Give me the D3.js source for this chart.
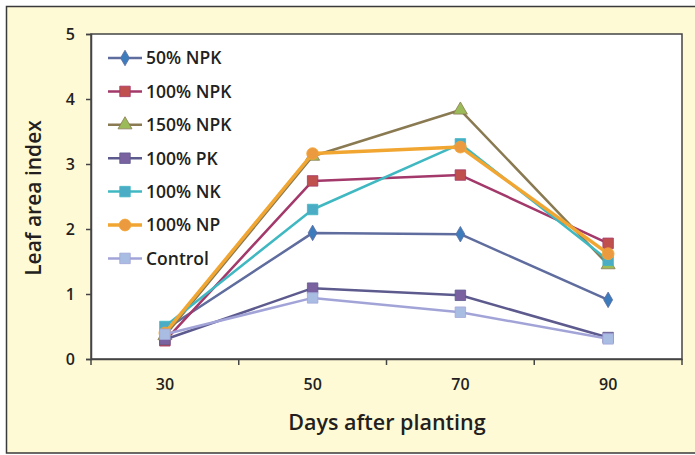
<!DOCTYPE html>
<html><head><meta charset="utf-8">
<script src="https://cdn.jsdelivr.net/npm/d3@7"></script>
<style>body{margin:0;background:#fff}svg{display:block}</style>
</head><body>
<svg id="c" width="695" height="455"></svg>
<script>
const categories = ["30", "50", "70", "90"];
const yTicks = [0, 1, 2, 3, 4, 5];
const seriesNames = ["50% NPK", "100% NPK", "150% NPK", "100% PK", "100% NK", "100% NP", "Control"];
const npk50  = [0.45, 1.94, 1.92, 0.91];
const npk100 = [0.28, 2.74, 2.83, 1.78];
const npk150 = [0.36, 3.12, 3.83, 1.45];
const pk100  = [0.30, 1.09, 0.98, 0.33];
const nk100  = [0.50, 2.30, 3.31, 1.52];
const np100  = [0.40, 3.16, 3.26, 1.62];
const control= [0.38, 0.94, 0.72, 0.31];
const seriesValues = [npk50, npk100, npk150, pk100, nk100, np100, control];
const lineColors   = ["#5f6c9e", "#a3386a", "#8a7a52", "#5d5a8e", "#3fb8c2", "#f2a632", "#a2a4d8"];
const markerColors = ["#3d7cbc", "#c0504d", "#9bbb59", "#7a62a0", "#4bacc6", "#ec9a40", "#a9bde3"];
const markerShapes = ["diamond", "square", "triangle", "square", "square", "circle", "square"];
const lineWidths   = [2.5, 2.5, 2.5, 2.5, 2.5, 3.5, 2.5];

const svg = d3.select("#c");
const font = "'Open Sans', sans-serif";
const ink = "#231f20";

svg.append("rect").attr("x", 6.5).attr("y", 6.5).attr("width", 700).attr("height", 446.5)
  .attr("fill", "#fffad6").attr("stroke", "#3a3a3a").attr("stroke-width", 1.5);

const L = 91, T = 34, R = 682, B = 359;
const x = d3.scaleBand().domain(categories).range([L, R]);
const y = d3.scaleLinear().domain([0, 5]).range([B, T]);

svg.append("rect").attr("x", L).attr("y", T).attr("width", R - L).attr("height", B - T)
  .attr("fill", "#fff").attr("stroke", "#444").attr("stroke-width", 1.5);

// y axis
const ya = svg.append("g").attr("transform", `translate(${L},0)`)
  .call(d3.axisLeft(y).tickValues(yTicks).tickSize(5).tickPadding(11).tickFormat(d3.format("d")));
ya.select(".domain").attr("stroke", "#444").attr("stroke-width", 1.5);
ya.selectAll(".tick line").attr("stroke", "#444").attr("stroke-width", 1.5);
ya.selectAll("text").attr("font-family", font).attr("font-weight", 600).attr("font-size", 16).attr("fill", ink);

// x axis
const xa = svg.append("g").attr("transform", `translate(0,${B})`)
  .call(d3.axisBottom(x).tickSize(0).tickPadding(20));
xa.select(".domain").attr("stroke", "#444").attr("stroke-width", 1.5);
xa.selectAll("text").attr("font-family", font).attr("font-weight", 600).attr("font-size", 16).attr("fill", ink);
const bounds = categories.map(c => x(c)).concat([R]);
svg.append("g").selectAll("line").data(bounds).join("line")
  .attr("x1", d => d).attr("x2", d => d).attr("y1", B).attr("y2", B + 6)
  .attr("stroke", "#444").attr("stroke-width", 1.5);

svg.append("text").attr("x", 387).attr("y", 430).attr("text-anchor", "middle")
  .attr("font-family", font).attr("font-weight", 600).attr("font-size", 21.5).attr("fill", ink)
  .text("Days after planting");
svg.append("text").attr("transform", "translate(41,198) rotate(-90)").attr("text-anchor", "middle")
  .attr("font-family", font).attr("font-weight", 600).attr("font-size", 21).attr("fill", ink)
  .text("Leaf area index");

const sym = {diamond: d3.symbolDiamond, square: d3.symbolSquare, triangle: d3.symbolTriangle, circle: d3.symbolCircle};
const symSize = {diamond: 70, square: 110, triangle: 85, circle: 110};
const cx = c => x(c) + x.bandwidth() / 2;
const line = d3.line().x((d, i) => cx(categories[i])).y(d => y(d));

seriesValues.forEach((vals, s) => {
  const g = svg.append("g");
  g.append("path").datum(vals).attr("d", line).attr("fill", "none")
    .attr("stroke", lineColors[s]).attr("stroke-width", lineWidths[s]).attr("stroke-linejoin", "round");
  g.selectAll("path.m").data(vals).join("path").attr("class", "m")
    .attr("transform", (d, i) => `translate(${cx(categories[i])},${y(d)})`)
    .attr("d", d3.symbol().type(sym[markerShapes[s]]).size(symSize[markerShapes[s]]))
    .attr("fill", markerColors[s]).attr("stroke", lineColors[s]).attr("stroke-width", 0.8);
});

// legend
const leg = svg.append("g");
seriesNames.forEach((name, s) => {
  const ly = 58 + s * 33.4;
  leg.append("line").attr("x1", 108).attr("x2", 142).attr("y1", ly).attr("y2", ly)
    .attr("stroke", lineColors[s]).attr("stroke-width", lineWidths[s]);
  leg.append("path").attr("transform", `translate(125,${ly})`)
    .attr("d", d3.symbol().type(sym[markerShapes[s]]).size(symSize[markerShapes[s]]))
    .attr("fill", markerColors[s]).attr("stroke", lineColors[s]).attr("stroke-width", 0.8);
  leg.append("text").attr("x", 146).attr("y", ly).attr("dy", "0.36em")
    .attr("font-family", font).attr("font-weight", 600).attr("font-size", 17.5).attr("fill", ink)
    .text(name);
});
</script>
</body></html>
